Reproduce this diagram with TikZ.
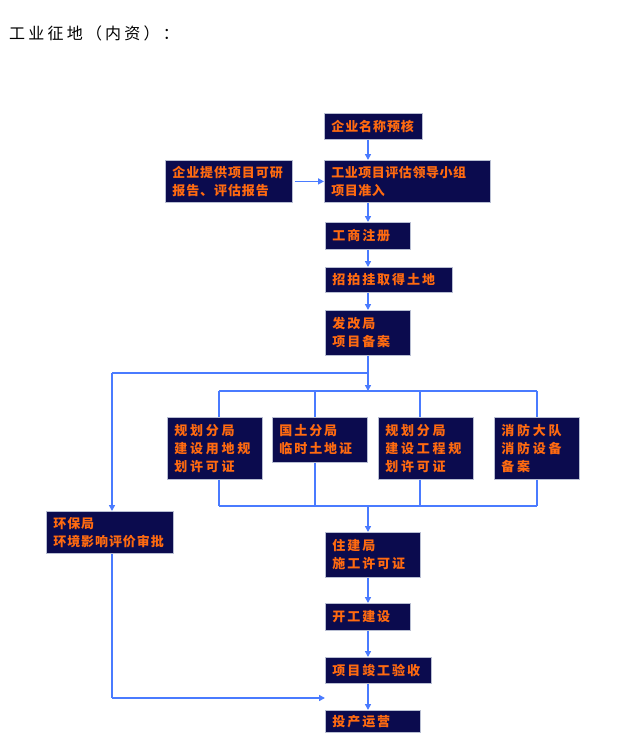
\documentclass[tikz,border=0pt]{standalone}
\usepackage{fontspec}
\usetikzlibrary{arrows.meta}
\newfontfamily\cjk{Noto Sans CJK SC}
\definecolor{boxfill}{HTML}{0B0B4E}
\definecolor{boxline}{HTML}{B8BED2}
\definecolor{txtorange}{HTML}{FF6A10}
\definecolor{flow}{HTML}{4A7BFF}
\newcommand\bx[7]{%
  \pgfmathsetmacro\bw{#4-#2}%
  \pgfmathsetmacro\bh{#5-#3}%
  \pgfmathsetmacro\tw{#4-#2-14}%
  \node[box, minimum width=\bw pt, minimum height=\bh pt, text width=\tw pt,
        font=\cjk\bfseries\fontsize{13}{18}\selectfont\addfontfeature{LetterSpace=#6}] (#1) at (#2,#3) {#7};}
\begin{document}
\begin{tikzpicture}[x=1pt,y=-1pt,
  box/.style={draw=boxline, line width=0.8pt, fill=boxfill, text=txtorange,
    align=left, inner xsep=7pt, inner ysep=0pt, anchor=north west},
  conn/.style={draw=flow, line width=1.7pt},
  arr/.style={conn, -{Triangle[length=6pt,width=6pt]}}]
\fill[white] (0,0) rectangle (619,750);
\useasboundingbox (0,0) rectangle (619,750);
\node[anchor=west, inner sep=0pt, font=\cjk\fontsize{16}{18}\selectfont\addfontfeature{LetterSpace=20}] (title) at (9,33) {工业征地（内资）：};
% main column
\bx{b1}{324}{113}{422}{139}{7}{企业名称预核}
\bx{b2}{324}{160}{490}{202}{4}{工业项目评估领导小组\\项目准入}
\bx{b3}{165}{160}{292}{202}{7}{企业提供项目可研\\报告、评估报告}
\bx{b4}{325}{222}{410}{249}{15}{工商注册}
\bx{b5}{325}{267}{452}{292}{15}{招拍挂取得土地}
\bx{b6}{325}{310}{410}{355}{15}{发改局\\项目备案}
% branch boxes
\bx{pa}{167}{417}{262}{479}{21}{规划分局\\建设用地规\\划许可证}
\bx{pb}{272}{417}{367}{462}{15}{国土分局\\临时土地证}
\bx{pc}{378}{417}{473}{479}{21}{规划分局\\建设工程规\\划许可证}
\bx{pd}{494}{417}{579}{479}{21}{消防大队\\消防设备\\备案}
\bx{hb}{46}{511}{173}{553}{7}{环保局\\环境影响评价审批}
\bx{zj}{325}{532}{420}{577}{15}{住建局\\施工许可证}
\bx{kg}{325}{603}{410}{630}{15}{开工建设}
\bx{jg}{325}{657}{431}{683}{15}{项目竣工验收}
\bx{tc}{325}{710}{420}{732}{15}{投产运营}
% helper coordinates
\coordinate (X) at (368,0);
\coordinate (split) at (368,373);
\coordinate (left) at (112,373);
\coordinate (ta) at (219,391);
\coordinate (tb) at (315,391);
\coordinate (tc2) at (420,391);
\coordinate (td) at (537,391);
\coordinate (tm) at (368,391);
\coordinate (ba) at (219,506);
\coordinate (bb) at (315,506);
\coordinate (bc) at (420,506);
\coordinate (bd) at (537,506);
\coordinate (bm) at (368,506);
\coordinate (hdown) at (112,698);
\coordinate (hend) at (325,698);
% connectors
\draw[arr] (b1.south -| X) -- (b2.north -| X);
\draw[arr, shorten <=2pt] (b3.east) -- (b2.west);
\draw[arr] (b2.south -| X) -- (b4.north -| X);
\draw[arr] (b4.south -| X) -- (b5.north -| X);
\draw[arr] (b5.south -| X) -- (b6.north -| X);
\draw[arr] (b6.south -| X) -- (tm);
\draw[conn] (split) -- (left);
\draw[arr] (left) -- (hb.north -| left);
\draw[conn] (ta) -- (td);
\draw[conn] (ta) -- (pa.north -| ta);
\draw[conn] (tb) -- (pb.north -| tb);
\draw[conn] (tc2) -- (pc.north -| tc2);
\draw[conn] (td) -- (pd.north -| td);
\draw[conn] (pa.south -| ba) -- (ba);
\draw[conn] (pb.south -| bb) -- (bb);
\draw[conn] (pc.south -| bc) -- (bc);
\draw[conn] (pd.south -| bd) -- (bd);
\draw[conn] (ba) -- (bd);
\draw[arr] (bm) -- (zj.north -| X);
\draw[arr] (zj.south -| X) -- (kg.north -| X);
\draw[arr] (kg.south -| X) -- (jg.north -| X);
\draw[arr] (jg.south -| X) -- (tc.north -| X);
\draw[conn] (hb.south -| hdown) -- (hdown);
\draw[arr] (hdown) -- (hend);
\end{tikzpicture}
\end{document}
